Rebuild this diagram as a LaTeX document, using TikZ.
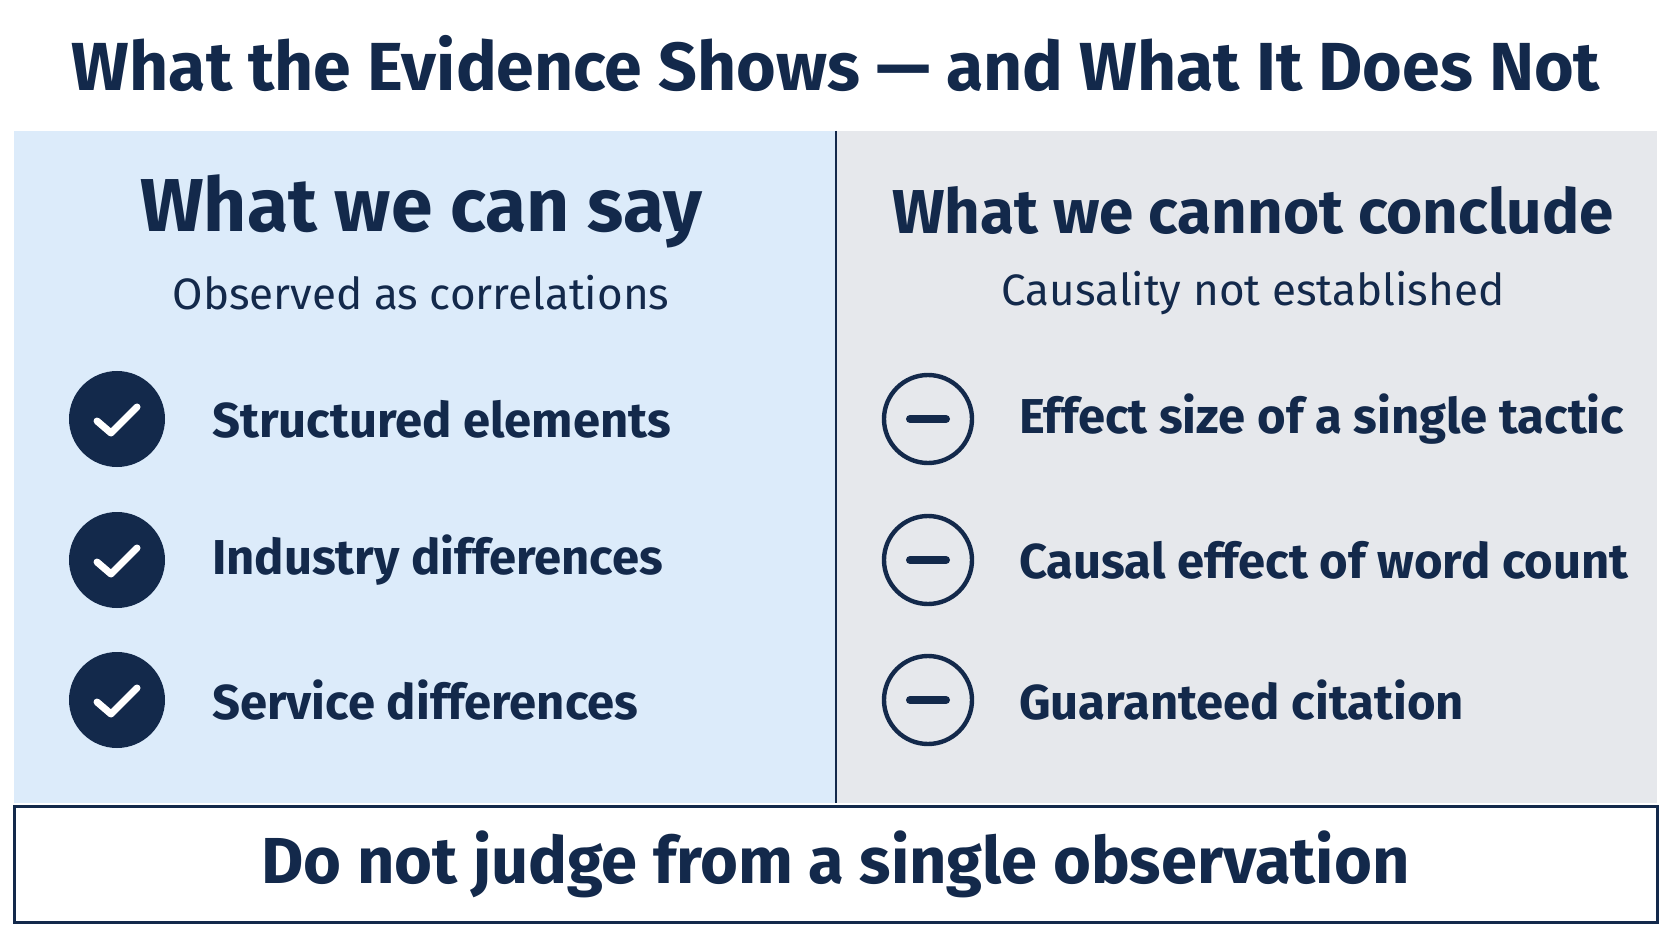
\documentclass[tikz,border=0pt]{standalone}
\usepackage{fontspec}
\setmainfont{Fira Sans}
\definecolor{navy}{HTML}{13294B}
\definecolor{sayblue}{HTML}{DCEBFA}
\definecolor{notgray}{HTML}{E6E8EC}
\tikzset{
  heading/.style={text=navy, font=\fontsize{33}{38}\selectfont\bfseries},
  subhead/.style={text=navy, font=\fontsize{22}{26}\selectfont},
  item/.style={text=navy, anchor=west, font=\fontsize{24.5}{28}\selectfont\medseries},
  yes/.style={circle, fill=navy, minimum size=48pt, inner sep=0pt},
  no/.style={circle, draw=navy, line width=2.2pt, fill=none, minimum size=44pt, inner sep=0pt}
}
\newcommand{\medseries}{\fontseries{sb}\selectfont}
\begin{document}
\begin{tikzpicture}[x=0.5pt, y=-0.5pt]
\useasboundingbox (0,0) rectangle (1672,941);
\fill[white] (0,0) rectangle (1672,941);

\node (title) [text=navy, font=\fontsize{34}{40}\selectfont\bfseries] at (836,64) {What the Evidence Shows --- and What It Does Not};

% panels
\fill[sayblue] (14,131) rectangle (836,803);
\fill[notgray] (836,131) rectangle (1657,803);
\draw[navy, line width=1pt] (836,131) -- (836,803);

\node (say) [heading, font=\fontsize{37.5}{42}\selectfont\bfseries] at (421,211) {What we can say};
\node (saysub) [subhead] at (421,293) {Observed as correlations};
\node (not) [heading, font=\fontsize{31}{36}\selectfont\bfseries] at (1253,211) {What we cannot conclude};
\node (notsub) [subhead] at (1253,293) {Causality not established};

% left items
\foreach \y/\t [count=\i] in {419/Structured elements, 560/Industry differences, 700/Service differences}{
  \node (y\i) [yes] at (117,\y) {};
  \draw[white, line width=3.5pt, line cap=round, line join=round]
    ([shift={(-20,2)}]y\i.center) -- ([shift={(-6,14)}]y\i.center) -- ([shift={(20,-12)}]y\i.center);
  \node (yt\i) [item] at (205,\y) {\t};
}

% right items
\foreach \y/\t [count=\i] in {419/Effect size of a single tactic, 560/Causal effect of word count, 700/Guaranteed citation}{
  \node (n\i) [no] at (928,\y) {};
  \draw[navy, line width=4pt, line cap=round] ([xshift=-9pt]n\i.center) -- ([xshift=9pt]n\i.center);
  \node (nt\i) [item] at (1012,\y) {\t};
}

% bottom note
\node (note) [draw=navy, line width=1.5pt, fill=white, minimum width=821.5pt, minimum height=58pt,
  text=navy, font=\fontsize{32.5}{38}\selectfont\bfseries] at (835.5,864) {Do not judge from a single observation};
\end{tikzpicture}
\end{document}
